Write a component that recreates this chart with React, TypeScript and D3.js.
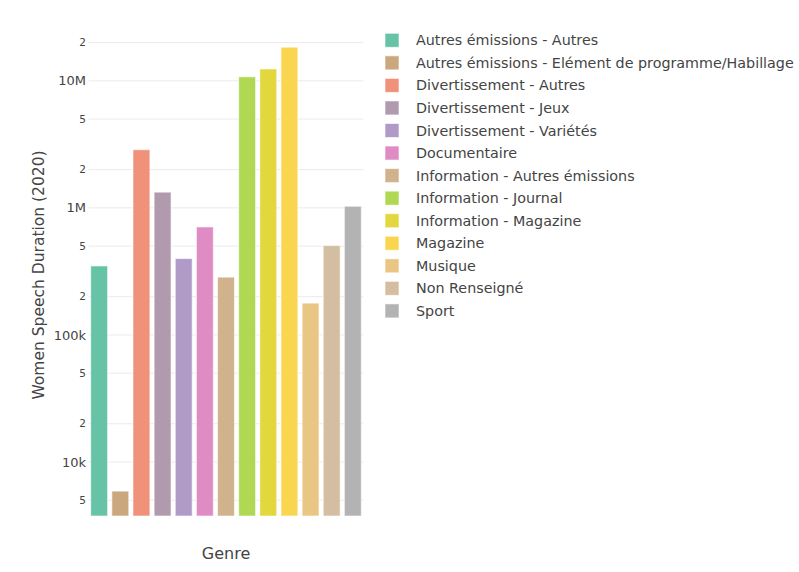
import * as d3 from "d3";

const genres = [
  "Autres émissions - Autres",
  "Autres émissions - Elément de programme/Habillage",
  "Divertissement - Autres",
  "Divertissement - Jeux",
  "Divertissement - Variétés",
  "Documentaire",
  "Information - Autres émissions",
  "Information - Journal",
  "Information - Magazine",
  "Magazine",
  "Musique",
  "Non Renseigné",
  "Sport",
];

const durations = [
  349000, 5900, 2870000, 1330000, 399000, 708000, 285000, 10750000, 12400000,
  18400000, 178000, 505000, 1030000,
];

const colors = [
  "#66c3a5", "#cba77e", "#f0917a", "#b29aae", "#b09ac8", "#e08cc4", "#d0b28c",
  "#b0d852", "#e2d83e", "#fad650", "#eac684", "#d4bea2", "#b3b3b3",
];

const tickValues = [5e3, 1e4, 2e4, 5e4, 1e5, 2e5, 5e5, 1e6, 2e6, 5e6, 1e7, 2e7];
const tickLabels = ["5", "10k", "2", "5", "100k", "2", "5", "1M", "2", "5", "10M", "2"];

const W = 799;
const H = 572;
const plot = { left: 88.6, right: 363.4, top: 30, bottom: 516 };
const font = "'DejaVu Sans', Verdana, sans-serif";
const textColor = "#444";

export default function App() {
  // plotly-like bar layout: bargap 0.2 split on both sides of each bar
  const x = d3
    .scaleBand<string>()
    .domain(genres)
    .range([plot.left, plot.right])
    .paddingInner(0.2)
    .paddingOuter(0.1);

  const y = d3
    .scaleLog()
    .domain([Math.pow(10, 3.575), Math.pow(10, 7.4)])
    .range([plot.bottom, plot.top]);

  return (
    <svg
      width={W}
      height={H}
      style={{ position: "absolute", left: 0, top: 0, background: "#fff" }}
      fontFamily={font}
    >
      {/* grid + y ticks */}
      {tickValues.map((v, i) => {
        const major = tickLabels[i].length > 1;
        return (
          <g key={v} transform={`translate(0,${y(v)})`}>
            <line x1={plot.left} x2={plot.right} stroke="#ebebeb" strokeWidth={1} />
            <text
              x={86}
              dy="0.35em"
              textAnchor="end"
              fontSize={major ? 13 : 10.5}
              fill={textColor}
            >
              {tickLabels[i]}
            </text>
          </g>
        );
      })}

      {/* bars */}
      {genres.map((g, i) => (
        <rect
          key={g}
          x={x(g)}
          y={y(durations[i])}
          width={x.bandwidth()}
          height={plot.bottom - y(durations[i])}
          fill={colors[i]}
          stroke="rgba(255,255,255,0.6)"
          strokeWidth={1}
        />
      ))}

      {/* axis titles */}
      <text
        transform={`translate(44,275) rotate(-90)`}
        textAnchor="middle"
        fontSize={15.5}
        fill={textColor}
      >
        Women Speech Duration (2020)
      </text>
      <text
        x={(plot.left + plot.right) / 2}
        y={559}
        textAnchor="middle"
        fontSize={16}
        fill={textColor}
      >
        Genre
      </text>

      {/* legend */}
      {genres.map((g, i) => (
        <g key={g} transform={`translate(385,${40.3 + i * 22.55})`}>
          <rect x={0} y={-7} width={14} height={14} fill={colors[i]} stroke="rgba(255,255,255,0.6)" />
          <text x={31} dy="0.35em" fontSize={14.3} fill={textColor}>
            {g}
          </text>
        </g>
      ))}
    </svg>
  );
}
